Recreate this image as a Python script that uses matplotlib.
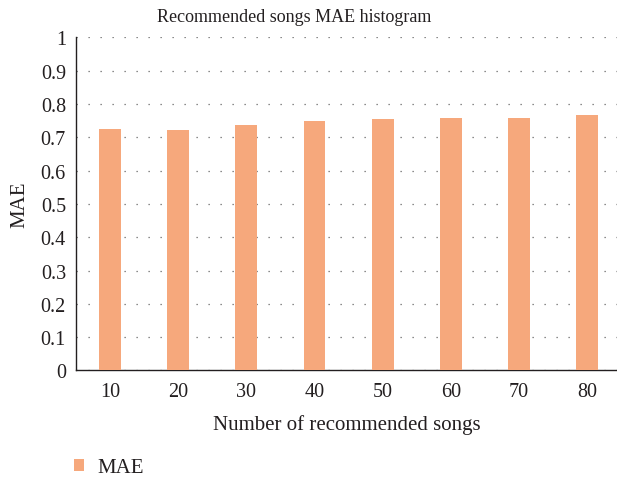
import matplotlib
matplotlib.use("Agg")
import matplotlib.pyplot as plt
import numpy as np

plt.rcParams['font.family'] = ['Liberation Serif', 'DejaVu Serif']

songs = ['10', '20', '30', '40', '50', '60', '70', '80']
mae = [0.724, 0.721, 0.736, 0.748, 0.754, 0.757, 0.757, 0.766]
yticks = [0, 0.1, 0.2, 0.3, 0.4, 0.5, 0.6, 0.7, 0.8, 0.9, 1]
ytick_labels = ['0', '0.1', '0.2', '0.3', '0.4', '0.5', '0.6', '0.7', '0.8', '0.9', '1']

bar_color = '#F6A87C'
text_color = '#231F20'

fig = plt.figure(figsize=(6.17, 4.81), dpi=100)
ax = fig.add_axes([0.1227, 0.2277, 0.8773, 0.6927])

x = np.arange(len(songs))
ax.bar(x, mae, width=0.32, color=bar_color, zorder=3, label='MAE')

ax.set_xlim(-0.504, 7.44)
ax.set_ylim(0, 1)
ax.set_xticks(x)
ax.set_xticklabels(songs)
ax.set_yticks(yticks)
ax.set_yticklabels(ytick_labels)
ax.tick_params(axis='both', length=0, labelsize=14.5, labelcolor=text_color)
ax.tick_params(axis='y', pad=7)
ax.tick_params(axis='x', pad=8)

# dotted horizontal guides
ax.yaxis.grid(True, linestyle=(0, (1, 8.6)), color='#666666', linewidth=0.9, zorder=0)
ax.xaxis.grid(False)

for side in ['top', 'right']:
    ax.spines[side].set_visible(False)
for side in ['left', 'bottom']:
    ax.spines[side].set_color('#231F20')
    ax.spines[side].set_linewidth(1.0)

ax.set_xlabel('Number of recommended songs', fontsize=15, color=text_color, labelpad=10)
ax.set_ylabel('MAE', fontsize=15, color=text_color, labelpad=8)

fig.text(294 / 617, 1 - 17 / 481, 'Recommended songs MAE histogram',
         ha='center', va='center', fontsize=13, color=text_color)

# legend placed manually below the axes
fig.legend(loc='center left', bbox_to_anchor=(0.09, 1 - 469 / 481), frameon=False,
           fontsize=15, handlelength=0.45, handleheight=0.45, handletextpad=0.65,
           labelcolor=text_color)

fig.savefig('out.png', dpi=100)
